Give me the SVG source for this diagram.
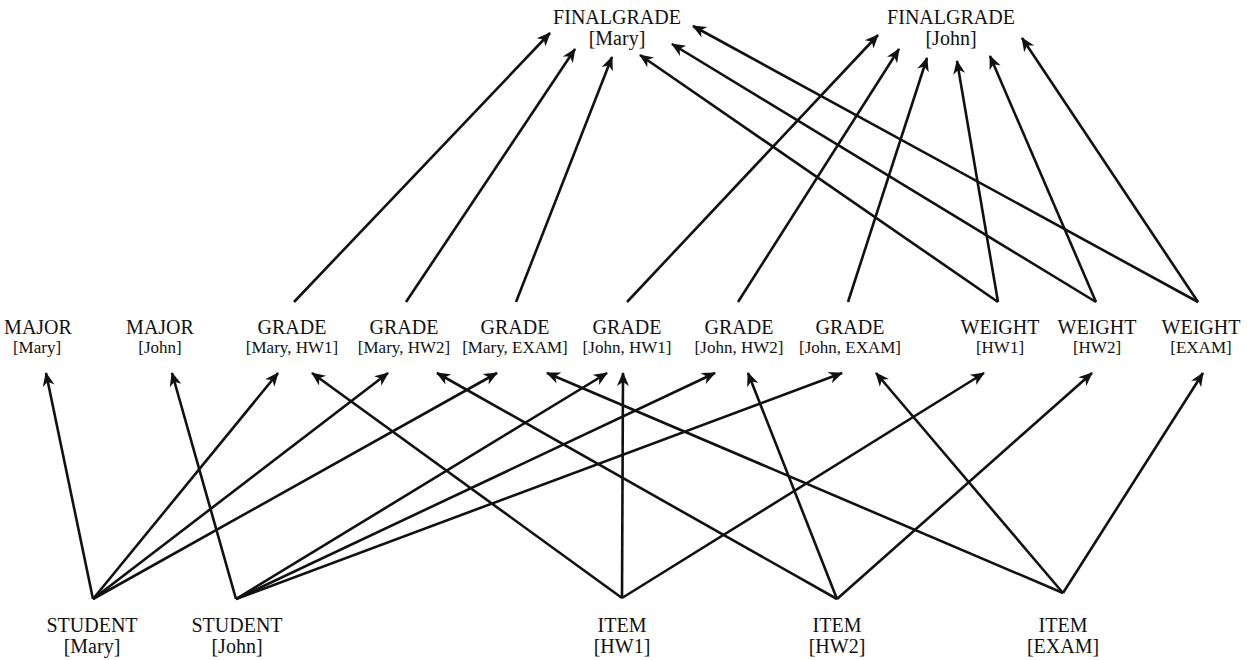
<svg xmlns="http://www.w3.org/2000/svg" width="1256" height="660" viewBox="0 0 1256 660">
<style>
text{font-family:"Liberation Serif","Times New Roman",serif;font-size:20px;fill:#111;text-anchor:middle}
text.s{font-size:17px}
.e{stroke:#111;stroke-width:2.6;fill:none;marker-end:url(#ah)}
</style>
<defs>
<marker id="ah" markerUnits="userSpaceOnUse" markerWidth="20" markerHeight="16" viewBox="-16 -8 20 16" refX="0" refY="0" orient="auto">
<path d="M1,0 L-13,-6 L-9,0 L-13,6 Z" fill="#111"/>
</marker>
</defs>
<rect width="1256" height="660" fill="#fff"/>
<g id="connectors">
<path class="e" d="M93,599 L46,373"/>
<path class="e" d="M93,599 L278,373"/>
<path class="e" d="M93,599 L388,373"/>
<path class="e" d="M93,599 L497,373"/>
<path class="e" d="M236,599 L172,373"/>
<path class="e" d="M236,599 L607,373"/>
<path class="e" d="M236,599 L715,373"/>
<path class="e" d="M236,599 L842,373"/>
<path class="e" d="M622,598 L312,373"/>
<path class="e" d="M622,598 L623,373"/>
<path class="e" d="M622,598 L984,373"/>
<path class="e" d="M837,599 L437,373"/>
<path class="e" d="M837,599 L748,373"/>
<path class="e" d="M837,599 L1092,373"/>
<path class="e" d="M1063,593 L547,373"/>
<path class="e" d="M1063,593 L876,373"/>
<path class="e" d="M1063,593 L1203,373"/>
<path class="e" d="M294,302 L550,33"/>
<path class="e" d="M406,302 L575,49"/>
<path class="e" d="M516,302 L612,57"/>
<path class="e" d="M627,302 L878,35"/>
<path class="e" d="M738,302 L899,49"/>
<path class="e" d="M848,302 L927,58"/>
<path class="e" d="M998,302 L640,55"/>
<path class="e" d="M998,302 L957,61"/>
<path class="e" d="M1096,302 L672,44"/>
<path class="e" d="M1096,302 L990,56"/>
<path class="e" d="M1198,302 L693,26"/>
<path class="e" d="M1198,302 L1022,38"/>
</g>
<g id="finalgrade-mary"><text x="617" y="24">FINALGRADE</text><text x="617" y="45">[Mary]</text></g>
<g id="finalgrade-john"><text x="951" y="24">FINALGRADE</text><text x="951" y="45">[John]</text></g>
<g id="major-mary"><text x="38" y="334">MAJOR</text><text class="s" x="37" y="353">[Mary]</text></g>
<g id="major-john"><text x="160" y="334">MAJOR</text><text class="s" x="160" y="353">[John]</text></g>
<g id="grade-mary-hw1"><text x="292" y="334">GRADE</text><text class="s" x="292" y="353">[Mary, HW1]</text></g>
<g id="grade-mary-hw2"><text x="404" y="334">GRADE</text><text class="s" x="404" y="353">[Mary, HW2]</text></g>
<g id="grade-mary-exam"><text x="515" y="334">GRADE</text><text class="s" x="515" y="353">[Mary, EXAM]</text></g>
<g id="grade-john-hw1"><text x="627" y="334">GRADE</text><text class="s" x="627" y="353">[John, HW1]</text></g>
<g id="grade-john-hw2"><text x="739" y="334">GRADE</text><text class="s" x="739" y="353">[John, HW2]</text></g>
<g id="grade-john-exam"><text x="850" y="334">GRADE</text><text class="s" x="850" y="353">[John, EXAM]</text></g>
<g id="weight-hw1"><text x="1000" y="334">WEIGHT</text><text class="s" x="1000" y="353">[HW1]</text></g>
<g id="weight-hw2"><text x="1097" y="334">WEIGHT</text><text class="s" x="1097" y="353">[HW2]</text></g>
<g id="weight-exam"><text x="1201" y="334">WEIGHT</text><text class="s" x="1201" y="353">[EXAM]</text></g>
<g id="student-mary"><text x="92" y="632">STUDENT</text><text x="92" y="653">[Mary]</text></g>
<g id="student-john"><text x="237" y="632">STUDENT</text><text x="237" y="653">[John]</text></g>
<g id="item-hw1"><text x="622" y="632">ITEM</text><text x="622" y="653">[HW1]</text></g>
<g id="item-hw2"><text x="837" y="632">ITEM</text><text x="837" y="653">[HW2]</text></g>
<g id="item-exam"><text x="1063" y="632">ITEM</text><text x="1063" y="653">[EXAM]</text></g>
</svg>
